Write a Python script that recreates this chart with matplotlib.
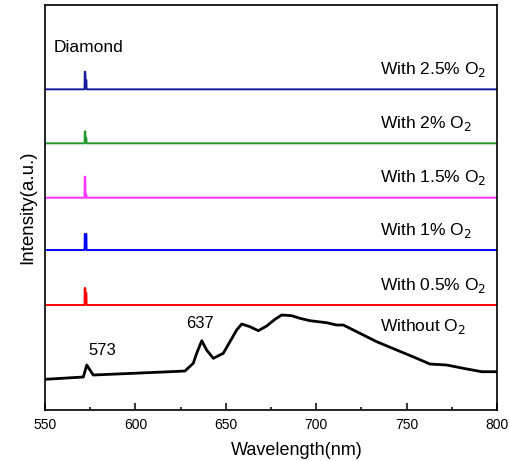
import numpy as np
import matplotlib
matplotlib.use('Agg')
import matplotlib.pyplot as plt
from matplotlib.ticker import MultipleLocator

plt.rcParams['font.family'] = ['Liberation Sans', 'DejaVu Sans']

# Without O2 spectrum (black)
bare_nm = [550, 571.2, 573.1, 576.7, 602.5, 619.1, 627.4, 632.0, 633.9, 636.7,
           639.4, 643.1, 648.6, 652.3, 656.0, 658.8, 663.4, 668.0, 672.6, 677.2,
           680.9, 686.5, 691.0, 696.6, 705.8, 711.3, 715.0, 724.2, 733.5, 744.5,
           755.6, 762.9, 772.2, 781.4, 791.5, 800]
bare_int = [30.7, 33, 45, 35, 37, 38.3, 39, 46.7, 56.7, 69.3,
            60, 51.7, 56.7, 68.3, 80, 86, 83.3, 79.3, 84, 90.7,
            95, 94.3, 91.7, 89.3, 87.3, 85, 85, 76.7, 68.3, 60,
            51.7, 46, 45, 41.7, 38.3, 38.3]

# O2 doped spectra: flat baseline + diamond Raman line
spike_nm = [550, 571.9, 572.0, 572.3, 572.4, 572.9, 573.0, 800]
spike_05 = [0, 0, 17, 17, 12, 12, 0, 0]
spike_1 = [0, 0, 16, 16, 16, 16, 0, 0]
spike_15 = [0, 0, 21, 21, 3, 3, 0, 0]
spike_2 = [0, 0, 12, 12, 5, 5, 0, 0]
spike_25 = [0, 0, 17.6, 17.6, 9, 9, 0, 0]

series = [spike_05, spike_1, spike_15, spike_2, spike_25]
offsets = [105, 160, 212.3, 266.7, 320.7]
colors = ['#ff0000', '#0000ff', '#ff33ff', '#22992a', '#1a1a9c']
labels = ['With 0.5% O$_2$', 'With 1% O$_2$', 'With 1.5% O$_2$',
          'With 2% O$_2$', 'With 2.5% O$_2$']

fig = plt.figure(figsize=(5.09, 4.61), dpi=100)
ax = fig.add_axes([0.0884, 0.1106, 0.888, 0.8785])

ax.plot(bare_nm, bare_int, color='black', lw=2.0)
ax.text(735.5, 410 - 326.7, 'Without O$_2$', fontsize=12.5, va='center', ha='left')
ax.text(574, 410 - 350, '573', fontsize=12, va='center', ha='left')
ax.text(636, 410 - 323.3, '637', fontsize=12, va='center', ha='center')

for s, off, c, lab in zip(series, offsets, colors, labels):
  ax.plot(spike_nm, np.array(s) + off, color=c, lw=1.4)
  ax.text(735.5, off + 20, lab, fontsize=12.5, va='center', ha='left')

ax.text(554.5, 410 - 47, 'Diamond', fontsize=12.5, va='center', ha='left')

ax.set_xlim(550, 800)
ax.set_ylim(0, 405)
ax.xaxis.set_major_locator(MultipleLocator(50))
ax.xaxis.set_minor_locator(MultipleLocator(25))
ax.tick_params(axis='x', which='major', direction='in', length=5, width=1.1,
               labelsize=10, pad=6)
ax.tick_params(axis='x', which='minor', direction='in', length=2.5, width=1.1)
ax.set_yticks([])
for sp in ax.spines.values():
  sp.set_linewidth(1.2)

ax.set_xlabel('Wavelength(nm)', fontsize=13, labelpad=4)
ax.xaxis.set_label_coords(0.557, -0.08)
ax.set_ylabel('Intensity(a.u.)', fontsize=13.5, labelpad=6)

fig.savefig('out.png', dpi=100)
